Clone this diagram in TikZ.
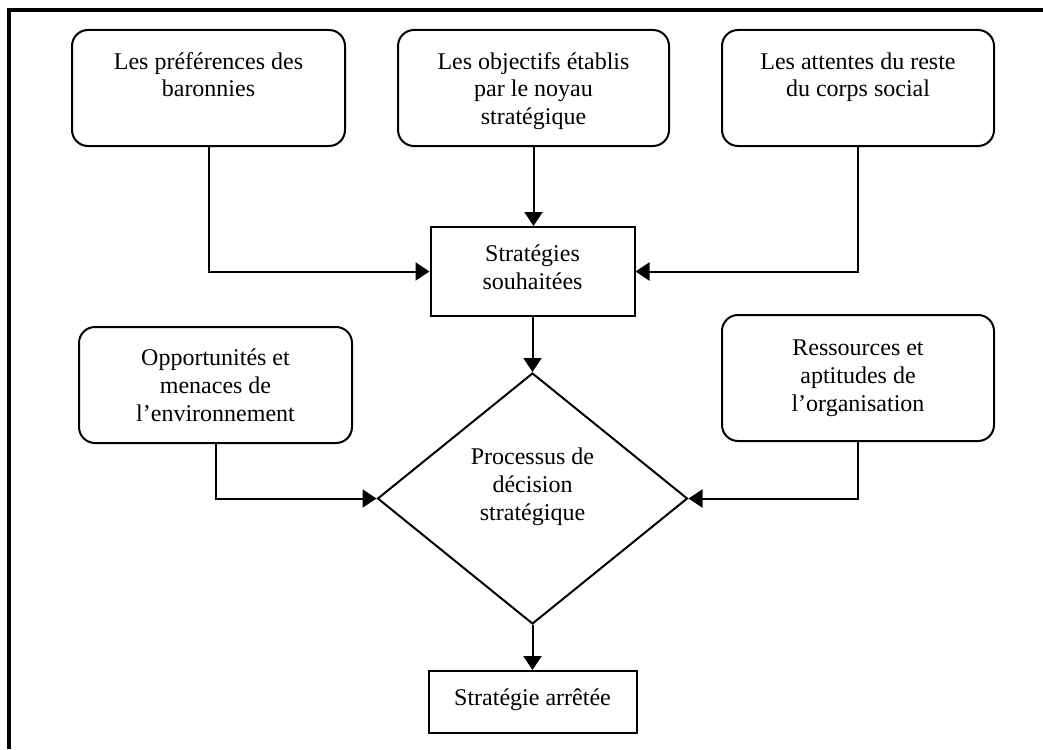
\documentclass[tikz,border=0pt]{standalone}
\usepackage{fontspec}
\setmainfont{Liberation Serif}
\usetikzlibrary{shapes.geometric,arrows.meta}
% top-aligned text block: #1 width, #2 height, #3 drop to first baseline, #4 text
\newcommand\topblock[4]{\parbox[c][#2][t]{#1}{\centering\rule{0pt}{#3}#4}}

\begin{document}
\begin{tikzpicture}[x=0.5pt,y=-0.5pt,
  every node/.style={font=\fontsize{12pt}{14pt}\selectfont, inner sep=0pt, line width=1pt},
  rbox/.style={draw, rounded corners=8pt},
  sbox/.style={draw, rectangle},
  choice/.style={draw, diamond, minimum width=155pt, minimum height=125.5pt},
  link/.style={line width=1pt, -{Triangle[length=7pt,width=9pt]}},
  frame/.style={line width=1.75pt}
]
\useasboundingbox (0,0) rectangle (1043,749);

% open frame (top and left edges)
\draw[frame] (8.8,749) -- (8.8,10) -- (1043,10);

% sources of the desired strategies
\node[rbox] (baron) at (208.5,88)
  {\topblock{136.5pt}{58pt}{19.5pt}{Les préférences des\\baronnies}};
\node[rbox] (noyau) at (533.5,88)
  {\topblock{135.5pt}{58pt}{19.5pt}{Les objectifs établis\\par le noyau\\stratégique}};
\node[rbox] (corps) at (858,88)
  {\topblock{136pt}{58pt}{19.5pt}{Les attentes du reste\\du corps social}};

% desired strategies
\node[sbox] (souh) at (532.5,271.5)
  {\topblock{102pt}{44.5pt}{17pt}{Stratégies\\souhaitées}};

% environment and resources
\node[rbox] (envt) at (215.5,385)
  {\topblock{136.5pt}{58pt}{19pt}{Opportunités et\\menaces de\\l’environnement}};
\node[rbox] (ress) at (858,378)
  {\topblock{136pt}{63pt}{20pt}{Ressources et\\aptitudes de\\l’organisation}};

% decision process
\node[choice] (dec) at (532.5,498.5)
  {\topblock{64pt}{56pt}{10.75pt}{Processus de\\décision\\stratégique}};

% adopted strategy
\node[sbox] (arr) at (532.5,702)
  {\topblock{104pt}{31pt}{17pt}{Stratégie arrêtée}};

% connectors
\draw[link] (baron.south) |- (souh.west);
\draw[link] (corps.south) |- (souh.east);
\draw[link] (noyau.south) -- (noyau.south |- souh.north);
\draw[link] (souh.south) -- (dec.north);
\draw[link] (envt.south) |- (dec.west);
\draw[link] (ress.south) |- (dec.east);
\draw[link] (dec.south) -- (arr.north);
\end{tikzpicture}
\end{document}
